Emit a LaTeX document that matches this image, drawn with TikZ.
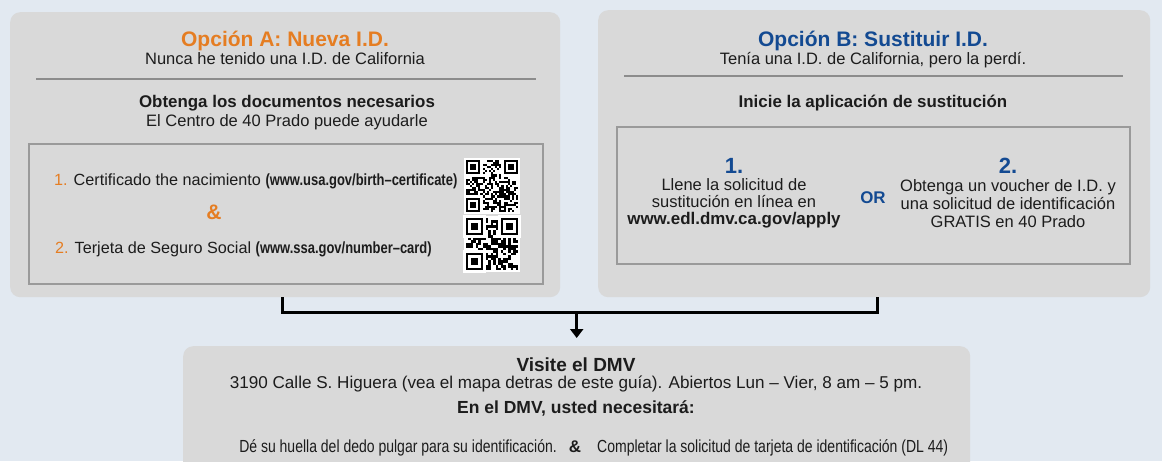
\documentclass[tikz,border=0pt]{standalone}
\usepackage{fontspec}
\setmainfont{Liberation Sans}
\newfontfamily\narrowfont[FakeStretch=0.8]{Liberation Sans}
\usetikzlibrary{arrows.meta}

\definecolor{bgblue}{HTML}{E2E9F1}
\definecolor{boxgray}{HTML}{D9D9D9}
\definecolor{framegray}{HTML}{9A9A9A}
\definecolor{rulegray}{HTML}{8C8C8C}
\definecolor{ink}{HTML}{1C1C1C}
\definecolor{optorange}{HTML}{E57D22}
\definecolor{optblue}{HTML}{134A92}

\begin{document}
\begin{tikzpicture}[x=1pt,y=-1pt,
  panel/.style={fill=boxgray,rounded corners=10pt,inner sep=0pt,anchor=north west},
  framebox/.style={draw=framegray,line width=2pt},
  seprule/.style={draw=rulegray,line width=2pt},
  titletext/.style={inner sep=0pt,anchor=base,font=\bfseries\fontsize{21}{24}\selectfont},
  plaintext/.style={inner sep=0pt,anchor=base,text=ink,font=\fontsize{16.5}{17}\selectfont},
  boldtext/.style={inner sep=0pt,anchor=base,text=ink,font=\bfseries\fontsize{16.9}{17}\selectfont},
  itemtext/.style={inner sep=0pt,anchor=base west,text=ink,font=\fontsize{16.2}{17}\selectfont},
  smalltext/.style={inner sep=0pt,anchor=base,text=ink,font=\narrowfont\fontsize{17.5}{18}\selectfont},
  bignum/.style={inner sep=0pt,anchor=base,text=optblue,font=\bfseries\fontsize{22}{24}\selectfont},
  link/.style={line width=2.7pt,black}]
\clip (0,0) rectangle (1162,461);
\fill[bgblue] (0,0) rectangle (1162,461);

% the three panels
\node[panel,minimum width=550,minimum height=285] (optA) at (10,12) {};
\node[panel,minimum width=552,minimum height=287] (optB) at (598,10) {};
\node[panel,minimum width=787,minimum height=160] (dmv) at (183,346) {};

% option A
\node[titletext,text=optorange] (titleA) at (285,46) {Opción A: Nueva I.D.};
\node[plaintext] (subA) at (285,64) {Nunca he tenido una I.D. de California};
\draw[seprule] (36,79) -- (536,79);
\node[boldtext] (needA) at (287,107) {Obtenga los documentos necesarios};
\node[plaintext] (helpA) at (287,126) {El Centro de 40 Prado puede ayudarle};
\draw[framebox] (29,144) rectangle (543,284);
\node[itemtext] (docA1) at (54,185) {\textcolor{optorange}{1.} Certificado the nacimiento {\narrowfont\bfseries(www.usa.gov/birth–certificate)}};
\node[titletext,text=optorange] (andA) at (214,219) {\&};
\node[itemtext] (docA2) at (55,253) {\textcolor{optorange}{2.} Terjeta de Seguro Social {\narrowfont\bfseries(www.ssa.gov/number–card)}};

% qr codes
\pgfmathsetseed{4711}
\foreach \qx/\qy/\qn/\qm in {464/158/25/2.1,464/216/21/2.5}{
  \fill[white] (\qx,\qy) rectangle ++(56,56);
  \pgfmathtruncatemacro\qlast{\qn-1}
  \foreach \i in {0,...,\qlast}{
    \foreach \j in {0,...,\qlast}{
      \pgfmathrandominteger{\qbit}{0}{1}
      \ifnum\qbit=1
        \fill (\qx+1.75+\i*\qm,\qy+1.75+\j*\qm) rectangle ++(\qm,\qm);
      \fi
    }
  }
  \foreach \fx/\fy in {0/0,1/0,0/1}{
    \coordinate (qf) at (\qx+1.75+\fx*\qn*\qm-\fx*7*\qm,\qy+1.75+\fy*\qn*\qm-\fy*7*\qm);
    \fill[white] ([shift={(-\qm,-\qm)}]qf) rectangle ++(9*\qm,9*\qm);
    \fill (qf) rectangle ++(7*\qm,7*\qm);
    \fill[white] ([shift={(\qm,\qm)}]qf) rectangle ++(5*\qm,5*\qm);
    \fill ([shift={(2*\qm,2*\qm)}]qf) rectangle ++(3*\qm,3*\qm);
  }
  \draw[white,line width=1.75pt] (\qx+0.875,\qy+0.875) rectangle ++(54.25,54.25);
}

% option B
\node[titletext,text=optblue] (titleB) at (873,46) {Opción B: Sustituir I.D.};
\node[plaintext] (subB) at (873,64) {Tenía una I.D. de California, pero la perdí.};
\draw[seprule] (624,76) -- (1123,76);
\node[boldtext] (startB) at (873,107) {Inicie la aplicación de sustitución};
\draw[framebox] (617,127) rectangle (1130,264);
\node[bignum] (numB1) at (734,173) {1.};
\node[plaintext,align=center,anchor=center] (stepB1) at (734,203) {Llene la solicitud de\\sustitución en línea en\\\textbf{\fontsize{16.9}{17}\selectfont www.edl.dmv.ca.gov/apply}};
\node[boldtext,text=optblue] (orB) at (873,203) {OR};
\node[bignum] (numB2) at (1008,173) {2.};
\node[plaintext,align=center,anchor=center,font=\fontsize{16.5}{18}\selectfont] (stepB2) at (1008,204) {Obtenga un voucher de I.D. y\\una solicitud de identificación\\GRATIS en 40 Prado};

% join to the DMV
\draw[link] ([xshift=-3pt]optA.south) -- ++(0,15) coordinate (joinA) -| ([xshift=3pt]optB.south);
\draw[link,-{Triangle[width=13pt,length=9pt]}] (joinA -| dmv.north) -- ([yshift=8pt]dmv.north);

% visit the DMV
\node[boldtext,font=\bfseries\fontsize{19}{20}\selectfont] (visit) at (576,371) {Visite el DMV};
\node[plaintext,font=\fontsize{17.1}{18}\selectfont] (addr) at (576,388) {3190 Calle S. Higuera (vea el mapa detras de este guía). Abiertos Lun – Vier, 8 am – 5 pm.};
\node[boldtext,font=\bfseries\fontsize{17.5}{18}\selectfont] (needD) at (576,413) {En el DMV, usted necesitará:};
\node[boldtext] (andD) at (575,452) {\&};
\node[smalltext,anchor=base east] (thumbD) at (557,452) {Dé su huella del dedo pulgar para su identificación.};
\node[smalltext,anchor=base west] (formD) at (597,452) {Completar la solicitud de tarjeta de identificación (DL 44)};
\end{tikzpicture}
\end{document}
